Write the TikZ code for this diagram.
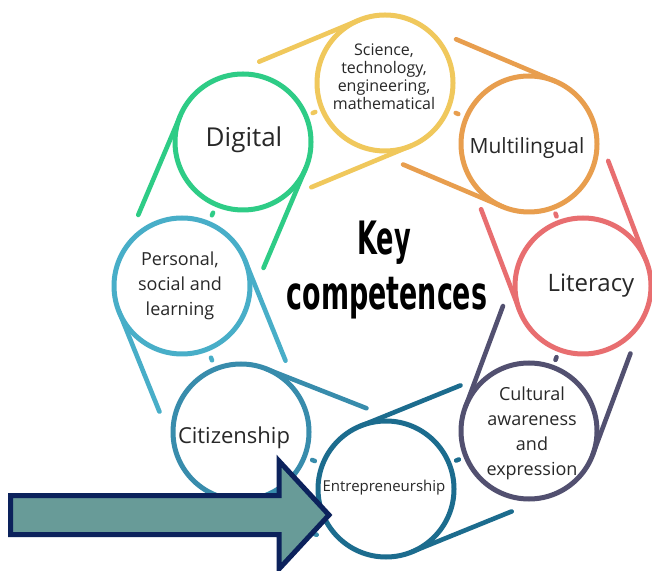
\documentclass[tikz,border=0pt]{standalone}
\usepackage{fontspec}
\usepackage{graphicx}
\setmainfont{Open Sans}
\newfontfamily\titlefont{DejaVu Sans Condensed}
\usetikzlibrary{calc}

% ring colours
\definecolor{cDig}{RGB}{46,204,134}
\definecolor{cSci}{RGB}{240,200,92}
\definecolor{cMul}{RGB}{232,158,78}
\definecolor{cLit}{RGB}{232,110,112}
\definecolor{cCul}{RGB}{82,80,112}
\definecolor{cEnt}{RGB}{28,108,142}
\definecolor{cCit}{RGB}{56,140,172}
\definecolor{cPer}{RGB}{72,174,200}
\definecolor{arrowFill}{RGB}{104,155,152}
\definecolor{arrowEdge}{RGB}{12,34,92}
\definecolor{labelInk}{RGB}{40,40,40}

\begin{document}
\begin{tikzpicture}[x=1pt,y=1pt,
  ring/.style={circle, draw=#1, line width=5pt, minimum size=136pt, inner sep=0pt},
  tangentline/.style={draw=#1, line width=4.6pt, line cap=round},
  gapdash/.style={draw=#1, line width=4.5pt, line cap=round},
  lab/.style={text=labelInk, align=center, inner sep=0pt},
  arrowbody/.style={fill=arrowFill, draw=arrowEdge, line width=5pt, line join=miter},
  titletext/.style={anchor=base, inner sep=0pt, font=\titlefont\bfseries\fontsize{46}{46}\selectfont}]
\useasboundingbox (0,0) rectangle (652,570);
\fill[white] (0,0) rectangle (652,570);

% the eight competence rings
\node[ring=cSci] (sci) at (385,487) {};
\node[ring=cMul] (mul) at (529,426) {};
\node[ring=cLit] (lit) at (583,284) {};
\node[ring=cCul] (cul) at (529,139) {};
\node[ring=cEnt] (ent) at (386,81) {};
\node[ring=cCit] (cit) at (241,138) {};
\node[ring=cPer] (per) at (182,284) {};
\node[ring=cDig] (dig) at (243,428) {};

% two parallel tangents per ring, pointing to the next ring anticlockwise,
% and a short dash in each gap
\foreach \ci/\nb/\col in {sci/dig/cSci, mul/sci/cMul, lit/mul/cLit, cul/lit/cCul,
                          ent/cul/cEnt, cit/ent/cCit, per/cit/cPer, dig/per/cDig}{
  \coordinate (t1) at ($(\ci)!68pt!90:(\nb)$);
  \coordinate (t2) at ($(\ci)!68pt!-90:(\nb)$);
  \coordinate (e1) at ($(t1)!108pt!90:(\ci)$);
  \coordinate (e2) at ($(t2)!108pt!-90:(\ci)$);
  \draw[tangentline=\col] (t1) -- (e1);
  \draw[tangentline=\col] (t2) -- (e2);
  \coordinate (gm) at ($(\ci)!0.5!(\nb)$);
  \draw[gapdash=\col] ($(gm)!1.5pt!(\ci)$) -- ($(gm)!1.5pt!(\nb)$);
}

% ring labels
\node[lab, font=\fontsize{16}{18}\selectfont] (scil) at (384,493) {Science,\\technology,\\engineering,\\mathematical};
\node[lab, font=\fontsize{21}{24}\selectfont] (mull) at (527,422) {Multilingual};
\node[lab, font=\fontsize{24}{28}\selectfont] (litl) at (591,284) {Literacy};
\node[lab, font=\fontsize{18}{25}\selectfont] (cull) at (532,137) {Cultural\\awareness\\and\\expression};
\node[lab, font=\fontsize{15}{18}\selectfont] (entl) at (384,82) {Entrepreneurship};
\node[lab, font=\fontsize{22}{26}\selectfont] (citl) at (234,132) {Citizenship};
\node[lab, font=\fontsize{18}{25}\selectfont] (perl) at (180,284) {Personal,\\social and\\learning};
\node[lab, font=\fontsize{26}{30}\selectfont] (digl) at (244,430) {Digital};

% central title
\node[titletext] (key) at (384,315) {\scalebox{0.62}[1]{Key}};
\node[titletext] (comp) at (387,260) {\scalebox{0.65}[1]{competences}};

% block arrow
\draw[arrowbody] (10.5,74.5) -- (279,74.5) -- (279,109) -- (329,55)
  -- (279,1) -- (279,35.5) -- (10.5,35.5) -- cycle;
\end{tikzpicture}
\end{document}
